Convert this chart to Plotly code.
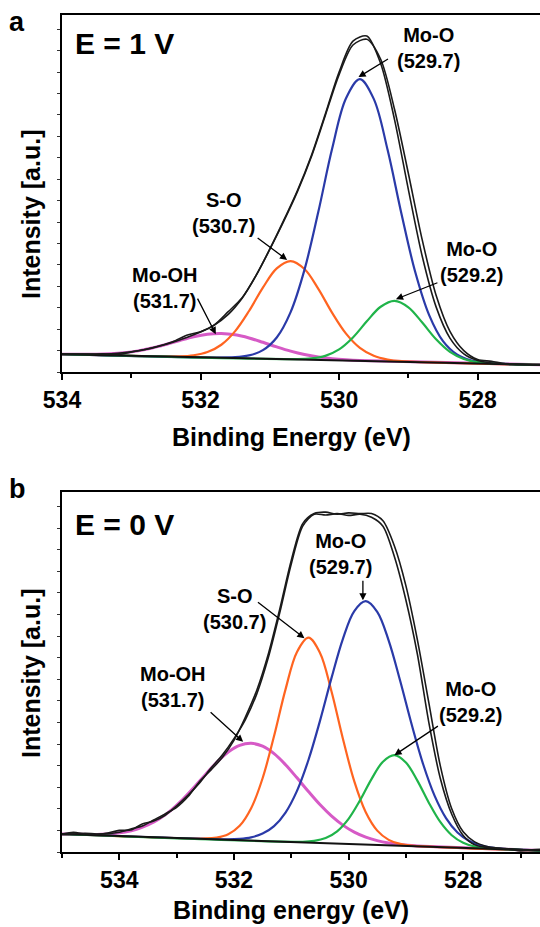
import numpy as np
import plotly.graph_objects as go

W, H = 540, 927

# ---------------- Panel a : E = 1 V ----------------
top_energy = np.round(np.arange(534.0, 526.95, -0.2), 2)
top_envelope = [5.02, 4.96, 4.96, 5.03, 5.23, 5.63, 6.28, 7.21, 8.36, 9.68, 11.2, 13.17,
                16.15, 20.68, 26.98, 34.42, 42.45, 50.92, 60.67, 72.21, 84.03, 92.66,
                94.11, 86.4, 70.71, 51.09, 32.41, 18.24, 9.5, 5.08, 3.21, 2.53, 2.27,
                2.13, 2.04, 1.96]
top_measured = [5.0, 5.0, 5.0, 5.1, 4.8, 5.6, 6.3, 7.3, 8.5, 10.3, 11.3, 13.2, 16.9,
                20.8, 27.0, 34.4, 42.2, 50.6, 60.3, 71.8, 83.3, 91.6, 93.2, 87.6, 73.6,
                55.6, 37.0, 21.5, 11.4, 6.0, 3.5, 3.0, 2.3, 2.1, 2.0, 1.9]
top_baseline_e = [534.0, 527.0]
top_baseline_i = [5.0, 1.96]

# fitted components (intensity above the baseline), sampled every 0.2 eV
top_mooh_e = np.round(np.arange(533.7, 529.65, -0.2), 2)
top_mooh = [0.08, 0.19, 0.41, 0.79, 1.40, 2.27, 3.37, 4.58, 5.71, 6.51, 6.80, 6.51,
            5.71, 4.58, 3.37, 2.27, 1.40, 0.79, 0.41, 0.19, 0.08]
top_so_e = np.round(np.arange(532.3, 529.05, -0.2), 2)
top_so = [0.15, 0.52, 1.49, 3.63, 7.53, 13.26, 19.89, 25.36, 27.5, 25.36, 19.89, 13.26,
          7.53, 3.63, 1.49, 0.52, 0.15]
top_moo1_e = np.round(np.arange(531.5, 527.85, -0.2), 2)
top_moo1 = [0.24, 0.81, 2.38, 6.02, 13.22, 25.14, 41.47, 59.28, 73.46, 78.9, 73.46,
            59.28, 41.47, 25.14, 13.22, 6.02, 2.38, 0.81, 0.24]
top_moo2_e = np.round(np.arange(530.6, 527.75, -0.2), 2)
top_moo2 = [0.09, 0.37, 1.18, 3.08, 6.51, 11.10, 15.28, 17.0, 15.28, 11.10, 6.51, 3.08,
            1.18, 0.37, 0.09]

# ---------------- Panel b : E = 0 V ----------------
bot_energy = np.round(np.arange(535.0, 526.55, -0.2), 2)
bot_scan1 = [5.0, 5.5, 5.0, 4.9, 5.3, 6.0, 6.1, 7.8, 8.6, 10.2, 12.8, 15.8, 19.2, 23.3,
             27.0, 31.5, 36.8, 44.0, 54.0, 66.5, 80.0, 90.5, 93.8, 93.6, 94.0, 93.5,
             93.8, 93.0, 90.5, 82.0, 70.0, 55.0, 36.0, 20.5, 10.5, 4.6, 2.0, 1.3, 1.0,
             0.8, 0.3, 0.6, 0.8]
bot_scan2 = [4.8, 5.0, 5.2, 5.0, 5.1, 5.5, 6.4, 7.2, 8.9, 10.6, 12.4, 15.4, 19.6, 22.8,
             26.3, 31.0, 37.5, 45.0, 55.0, 67.5, 81.0, 91.2, 94.0, 94.4, 93.8, 94.2,
             94.0, 94.0, 92.0, 85.0, 74.0, 59.0, 41.5, 24.0, 12.0, 5.6, 2.8, 1.6, 1.1,
             0.9, 0.7, 0.5, 0.7]
bot_baseline_e = [535.0, 526.6]
bot_baseline_i = [5.0, 0.37]

bot_mooh_e = np.round(np.arange(534.7, 528.65, -0.2), 2)
bot_mooh = [0.08, 0.17, 0.34, 0.66, 1.19, 2.04, 3.33, 5.17, 7.62, 10.65, 14.16, 17.86,
            21.40, 24.35, 26.31, 27.0, 26.31, 24.35, 21.40, 17.86, 14.16, 10.65, 7.62,
            5.17, 3.33, 2.04, 1.19, 0.66, 0.34, 0.17, 0.08]
bot_so_e = np.round(np.arange(532.5, 528.85, -0.2), 2)
bot_so = [0.14, 0.50, 1.52, 3.97, 8.96, 17.42, 29.24, 42.33, 52.84, 56.9, 52.84, 42.33,
          29.24, 17.42, 8.96, 3.97, 1.52, 0.50, 0.14]
bot_moo1_e = np.round(np.arange(532.1, 527.25, -0.2), 2)
bot_moo1 = [0.13, 0.36, 0.89, 2.04, 4.24, 8.12, 14.25, 22.92, 33.83, 45.81, 56.86, 64.74,
            67.6, 64.74, 56.86, 45.81, 33.83, 22.92, 14.25, 8.12, 4.24, 2.04, 0.89,
            0.36, 0.13]
bot_moo2_e = np.round(np.arange(530.8, 527.55, -0.2), 2)
bot_moo2 = [0.15, 0.50, 1.41, 3.40, 6.98, 12.22, 18.23, 23.17, 25.1, 23.17, 18.23, 12.22,
            6.98, 3.40, 1.41, 0.50, 0.15]

peak_labels = ["Mo-OH", "S-O", "Mo-O", "Mo-O"]
peak_positions = [531.7, 530.7, 529.7, 529.2]
colors = ["#d65ac6", "#ff6420", "#2a3aa8", "#20b44a"]
widths = [3.0, 2.2, 2.2, 2.2]

FONT = "Liberation Sans, Arial, sans-serif"

fig = go.Figure()


def add_panel(xa, ya, energy, blacks, base_e, base_i, comps):
    be = np.array(base_e, dtype=float)
    bi = np.array(base_i, dtype=float)
    # fitted peaks drawn on top of the linear background
    for (ce, ci), col, lw in zip(comps, colors, widths):
        ce = np.concatenate([[be[0]], ce, [be[1]]])
        ci = np.concatenate([[0.0], ci, [0.0]])
        yb = np.interp(ce, be[::-1], bi[::-1]) + ci
        fig.add_trace(go.Scatter(x=ce, y=yb, mode="lines", xaxis=xa, yaxis=ya,
                                 line=dict(color=col, width=lw, shape="spline", smoothing=1.0),
                                 showlegend=False, hoverinfo="skip"))
    fig.add_trace(go.Scatter(x=be, y=bi, mode="lines", xaxis=xa, yaxis=ya,
                             line=dict(color="#111111", width=2.0),
                             showlegend=False, hoverinfo="skip"))
    for vals in blacks:
        fig.add_trace(go.Scatter(x=energy, y=vals, mode="lines", xaxis=xa, yaxis=ya,
                                 line=dict(color="#1a1a1a", width=1.6, shape="spline",
                                           smoothing=0.8),
                                 showlegend=False, hoverinfo="skip"))


add_panel("x", "y", top_energy, [top_envelope, top_measured], top_baseline_e, top_baseline_i,
          [(top_mooh_e, top_mooh), (top_so_e, top_so), (top_moo1_e, top_moo1),
           (top_moo2_e, top_moo2)])
add_panel("x2", "y2", bot_energy, [bot_scan1, bot_scan2], bot_baseline_e, bot_baseline_i,
          [(bot_mooh_e, bot_mooh), (bot_so_e, bot_so), (bot_moo1_e, bot_moo1),
           (bot_moo2_e, bot_moo2)])


def py(p):
    return 1 - p / H


def px(p):
    return p / W


xaxis_common = dict(showline=True, linecolor="black", linewidth=2, mirror=True,
                    showgrid=False, zeroline=False, ticks="outside", ticklen=6,
                    tickwidth=2, tickcolor="black", dtick=2, tick0=534, automargin=False,
                    minor=dict(dtick=1, tick0=534, ticks="outside", ticklen=4,
                               tickwidth=1.5, tickcolor="black"),
                    tickfont=dict(family=FONT, size=23, color="black", weight="bold"))
yaxis_common = dict(showline=True, linecolor="black", linewidth=2, mirror=False,
                    showgrid=False, zeroline=False, ticks="outside", ticklen=3,
                    tickwidth=1, tickcolor="#333333", dtick=6, showticklabels=False,
                    range=[0, 100], automargin=False)

fig.update_layout(
    template="none",
    width=W, height=H, margin=dict(l=0, r=0, t=0, b=0, pad=0, autoexpand=False),
    paper_bgcolor="white", plot_bgcolor="white",
    xaxis=dict(domain=[px(62), 1], range=[534.0, 527.1], anchor="y", **xaxis_common),
    yaxis=dict(domain=[py(372), py(15)], anchor="x", **yaxis_common),
    xaxis2=dict(domain=[px(62), 1], range=[535.0, 526.66], anchor="y2", **xaxis_common),
    yaxis2=dict(domain=[py(852), py(492)], anchor="x2", **yaxis_common),
)

ann = []


def text(x, y, s, size):
    ann.append(dict(x=px(x), y=py(y), xref="paper", yref="paper", text=s, showarrow=False,
                    xanchor="center", yanchor="middle",
                    font=dict(family=FONT, size=size, color="black", weight="bold")))


def arrow(xa, ya, x, y, ax, ay):
    ann.append(dict(x=x, y=y, xref=xa, yref=ya, ax=ax, ay=ay, axref="pixel", ayref="pixel",
                    text="", showarrow=True, arrowhead=2, arrowsize=1.1, arrowwidth=1.3,
                    arrowcolor="black", standoff=0, startstandoff=0))


# panel letters, conditions, axis titles
text(17, 22, "a", 27)
text(17, 489, "b", 27)
text(124, 43, "E = 1 V", 30)
text(124, 524, "E = 0 V", 30)
text(291, 437, "Binding Energy (eV)", 25)
text(291, 910, "Binding energy (eV)", 25)
for yc in (215, 674):
    ann.append(dict(x=px(31), y=py(yc), xref="paper", yref="paper", text="Intensity [a.u.]",
                    showarrow=False, textangle=-90, xanchor="center", yanchor="middle",
                    font=dict(family=FONT, size=25, color="black", weight="bold")))

# peak labels, panel a
top_label_xy = [(165, 288), (223, 213), (428, 48), (471, 262)]
top_arrow = [(531.78, 10.6, -19, -37), (530.75, 31.4, -31, -23), (529.72, 82.6, 31, -19),
             (529.18, 20.4, 43, -17)]
for name, pos, (tx, ty), (hx, hy, dx, dy) in zip(peak_labels, peak_positions, top_label_xy,
                                                  top_arrow):
    text(tx, ty, f"{name}<br>({pos:.1f})", 20)
    arrow("x", "y", hx, hy, dx, dy)

# peak labels, panel b
bot_label_xy = [(173, 687), (234, 609), (340, 554), (470, 702)]
bot_arrow = [(531.84, 30.6, -34, -31), (530.77, 59.4, -48, -37), (529.75, 69.9, 0, -21),
             (529.2, 26.9, 45, -30)]
for name, pos, (tx, ty), (hx, hy, dx, dy) in zip(peak_labels, peak_positions, bot_label_xy,
                                                  bot_arrow):
    text(tx, ty, f"{name}<br>({pos:.1f})", 20)
    arrow("x2", "y2", hx, hy, dx, dy)

fig.update_layout(annotations=ann)
fig.write_html("out.html")
